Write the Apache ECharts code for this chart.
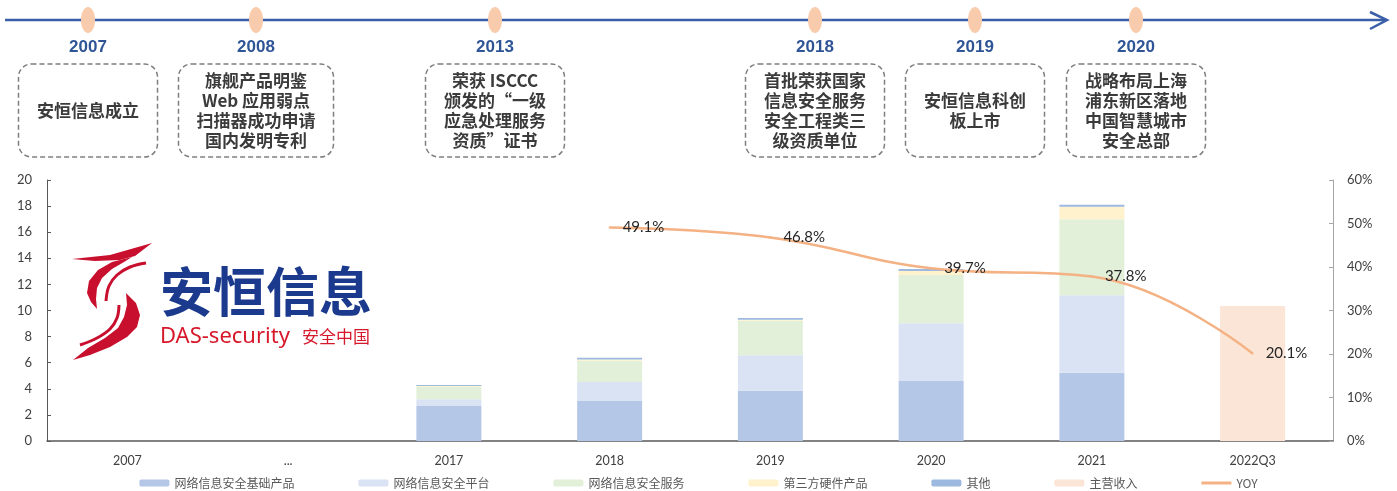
<!DOCTYPE html>
<html>
<head>
<meta charset="utf-8">
<title>安恒信息 营收</title>
<style>
  html, body { margin: 0; padding: 0; background: #fff; }
  #main { width: 1397px; height: 491px; }
</style>
</head>
<body>
<div id="main"></div>
<script src="https://cdn.jsdelivr.net/npm/echarts@6/dist/echarts.min.js"></script>
<script>
// categories and values (亿元 / %)
var categories = ['2007', '...', '2017', '2018', '2019', '2020', '2021', '2022Q3'];
var baseProduct = [null, null, 2.68, 3.07, 3.86, 4.60, 5.23, null];
var platform = [null, null, 0.52, 1.45, 2.71, 4.42, 5.93, null];
var service = [null, null, 0.96, 1.63, 2.65, 3.70, 5.83, null];
var hardware = [null, null, 0.06, 0.10, 0.08, 0.30, 0.96, null];
var others = [null, null, 0.08, 0.13, 0.13, 0.16, 0.15, null];
var mainRevenue = [null, null, null, null, null, null, null, 10.34];
var yoy = [null, null, null, 49.1, 46.8, 39.7, 37.8, 20.1];

// timeline milestones
var milestoneYears = ['2007', '2008', '2013', '2018', '2019', '2020'];
var milestoneText = [
  '安恒信息成立',
  '旗舰产品明鉴\nWeb 应用弱点\n扫描器成功申请\n国内发明专利',
  '荣获 ISCCC\n颁发的“一级\n应急处理服务\n资质”证书',
  '首批荣获国家\n信息安全服务\n安全工程类三\n级资质单位',
  '安恒信息科创\n板上市',
  '战略布局上海\n浦东新区落地\n中国智慧城市\n安全总部'
];
var milestoneX = [88, 256, 495, 815, 975, 1136];
var boxWidth = [139, 155, 139, 139, 139, 139];

var cjk = '"Noto Sans CJK SC", sans-serif';
var latin = 'Lato, "Noto Sans CJK SC", sans-serif';
var red = '#C8102E';

var graphics = [];
// timeline axis with arrow
graphics.push({
  type: 'line', shape: { x1: 5, y1: 20, x2: 1386, y2: 20 },
  style: { stroke: '#3A5FA8', lineWidth: 2.5 }, z: 10
});
graphics.push({
  type: 'polyline', shape: { points: [[1370, 12], [1387, 20], [1370, 29]] },
  style: { stroke: '#3A5FA8', lineWidth: 2.5, fill: null }, z: 10
});
milestoneYears.forEach(function (y, i) {
  var cx = milestoneX[i];
  graphics.push({
    type: 'ellipse', shape: { cx: cx, cy: 20, rx: 7, ry: 13 },
    style: { fill: '#F8CBAD' }, z: 11
  });
  graphics.push({
    type: 'text', x: cx, y: 47,
    style: {
      text: y, fill: '#2F5597', font: 'bold 17px "Liberation Sans", Arial, sans-serif',
      align: 'center', verticalAlign: 'middle'
    }, z: 11
  });
  graphics.push({
    type: 'rect',
    shape: { x: cx - boxWidth[i] / 2, y: 64, width: boxWidth[i], height: 93, r: 13 },
    style: { fill: null, stroke: '#7F7F7F', lineWidth: 1.5, lineDash: [5, 3] }, z: 11
  });
  graphics.push({
    type: 'text', x: cx, y: 111,
    style: {
      text: milestoneText[i], fill: '#3B3B3B', fontSize: 17, fontFamily: cjk,
      fontWeight: 'bold', lineHeight: 20, align: 'center', verticalAlign: 'middle'
    }, z: 11
  });
});

// logo
graphics.push({
  type: 'group', x: 60, y: 235, z: 12,
  children: [
    { type: 'polygon', shape: { points: [[12, 24], [50, 20], [92, 8], [75, 21], [60, 25], [35, 26]] }, style: { fill: red } },
    { type: 'polygon', shape: { points: [[72, 22], [52, 27], [38, 35], [29, 46], [27, 58], [31, 67], [37, 74], [36, 64], [37, 53], [42, 43], [52, 34], [64, 27]] }, style: { fill: red } },
    { type: 'polyline', shape: { points: [[86, 28], [70, 32], [57, 40], [49, 51], [46, 66]], smooth: 0.4 }, style: { stroke: red, lineWidth: 3, fill: null } },
    { type: 'polygon', shape: { points: [[66, 58], [76, 68], [80, 80], [77, 92], [67, 102], [50, 112], [30, 120], [13, 125], [28, 113], [45, 103], [58, 93], [64, 82], [67, 70]] }, style: { fill: red } },
    { type: 'polyline', shape: { points: [[59, 70], [57, 83], [50, 94], [37, 103], [20, 110]], smooth: 0.4 }, style: { stroke: red, lineWidth: 3, fill: null } },
    { type: 'text', x: 100, y: 57, style: { text: '安恒信息', fill: '#1B3A8E', fontSize: 53, fontWeight: 'bold', fontFamily: cjk, verticalAlign: 'middle' } },
    { type: 'text', x: 100, y: 102, style: { text: 'DAS-security', fill: '#D7182A', fontSize: 22, fontFamily: '"Noto Sans", sans-serif', verticalAlign: 'middle' } },
    { type: 'text', x: 242, y: 102, style: { text: '安全中国', fill: '#D7182A', fontSize: 17, fontFamily: cjk, verticalAlign: 'middle' } }
  ]
});

function barSeries(name, data, color) {
  return {
    name: name, type: 'bar', stack: 'total', data: data, barWidth: 65,
    itemStyle: { color: color }
  };
}

var chart = echarts.init(document.getElementById('main'));
chart.setOption({
  animation: false,
  textStyle: { fontFamily: latin },
  grid: { left: 47, right: 64, top: 180, bottom: 50 },
  legend: {
    top: 472, left: 'center', itemWidth: 30, itemHeight: 7, itemGap: 64,
    textStyle: { fontSize: 12, color: '#595959', fontFamily: cjk },
    data: ['网络信息安全基础产品', '网络信息安全平台', '网络信息安全服务', '第三方硬件产品', '其他', '主营收入',
      { name: 'YOY', icon: 'path://M0,0 L30,0 L30,3 L0,3 Z', itemStyle: { color: '#F4B183', opacity: 1 } }]
  },
  xAxis: {
    type: 'category', data: categories,
    axisLine: { lineStyle: { color: '#595959', width: 1.5 } },
    axisTick: { show: false },
    axisLabel: { color: '#404040', fontSize: 12.5, margin: 14, interval: 0 }
  },
  yAxis: [{
    type: 'value', min: 0, max: 20, interval: 2,
    axisLine: { show: true, lineStyle: { color: '#595959' } },
    axisTick: { show: true, inside: true, length: 4, lineStyle: { color: '#595959' } },
    splitLine: { show: false },
    axisLabel: { color: '#404040', fontSize: 13, margin: 15 }
  }, {
    type: 'value', min: 0, max: 60, interval: 10,
    axisLine: { show: true, lineStyle: { color: '#A6A6A6' } },
    axisTick: { show: true, inside: true, length: 4, lineStyle: { color: '#A6A6A6' } },
    splitLine: { show: false },
    axisLabel: { color: '#404040', fontSize: 13, margin: 14, formatter: '{value}%' }
  }],
  graphic: graphics,
  series: [
    barSeries('网络信息安全基础产品', baseProduct, '#B4C7E7'),
    barSeries('网络信息安全平台', platform, '#DAE3F3'),
    barSeries('网络信息安全服务', service, '#E2F0D9'),
    barSeries('第三方硬件产品', hardware, '#FFF2CC'),
    barSeries('其他', others, '#9DB9E0'),
    barSeries('主营收入', mainRevenue, '#FBE5D6'),
    {
      name: 'YOY', type: 'line', yAxisIndex: 1, data: yoy, smooth: 0.45,
      symbol: 'circle', symbolSize: 2, showSymbol: true, connectNulls: false,
      lineStyle: { color: '#F4B183', width: 2.5 },
      itemStyle: { color: '#F4B183' },
      label: {
        show: true, position: 'right', distance: 12, fontSize: 15, color: '#262626',
        formatter: function (p) { return p.value.toFixed(1) + '%'; }
      },
      z: 5
    }
  ]
});
</script>
</body>
</html>
